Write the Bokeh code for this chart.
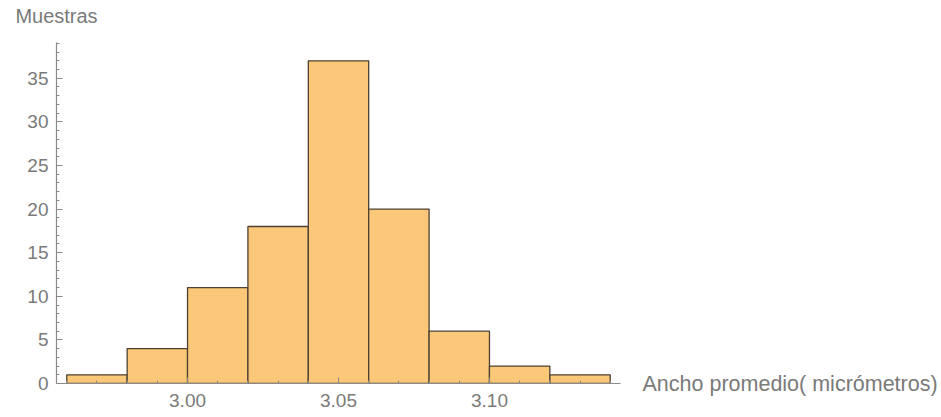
from bokeh.plotting import figure
from bokeh.models import (Range1d, SingleIntervalTicker, FixedTicker, PrintfTickFormatter,
                          LinearAxis, ColumnDataSource)
from bokeh.embed import file_html
from bokeh.resources import INLINE

# Data
bin_edges = [2.96, 2.98, 3.00, 3.02, 3.04, 3.06, 3.08, 3.10, 3.12, 3.14]
counts = [1, 4, 11, 18, 37, 20, 6, 2, 1]
y_label = "Muestras"
x_label = "Ancho promedio( micrómetros)"

src = ColumnDataSource(dict(left=bin_edges[:-1], right=bin_edges[1:], top=counts,
                            bottom=[0] * len(counts)))

TXT = "#7a7a7a"
AX = "#8a8a8a"
FONT = "Liberation Sans"

p = figure(width=941, height=417, output_backend="svg", toolbar_location=None,
           x_range=Range1d(2.9566, 3.1434), y_range=Range1d(0, 39.1),
           min_border_left=56, min_border_right=321, min_border_top=42, min_border_bottom=34)
p.outline_line_color = None
p.background_fill_color = "white"
p.border_fill_color = "white"
p.xgrid.visible = False
p.ygrid.visible = False

p.quad(left="left", right="right", top="top", bottom="bottom", source=src,
       fill_color="#FAC878", line_color="#4d4033", line_width=1.3)

for ax in (p.xaxis[0], p.yaxis[0]):
    ax.axis_line_color = AX
    ax.axis_line_width = 1.2
    ax.major_tick_line_color = AX
    ax.minor_tick_line_color = AX
    ax.major_tick_in = 6
    ax.major_tick_out = 0
    ax.minor_tick_in = 3
    ax.minor_tick_out = 0
    ax.major_label_text_color = TXT
    ax.major_label_text_font = FONT
    ax.major_label_text_font_size = "19px"

p.xaxis[0].ticker = SingleIntervalTicker(interval=0.05, num_minor_ticks=5)
p.xaxis[0].formatter = PrintfTickFormatter(format="%.2f")
p.xaxis[0].major_label_standoff = 10
p.yaxis[0].ticker = SingleIntervalTicker(interval=5, num_minor_ticks=5)
p.yaxis[0].major_label_standoff = 8


def text_guide(ticks, text, **kw):
    g = LinearAxis(ticker=FixedTicker(ticks=ticks, minor_ticks=[]),
                   major_label_overrides={ticks[0]: text}, **kw)
    g.axis_line_color = None
    g.major_tick_line_color = None
    g.minor_tick_line_color = None
    g.major_tick_out = 0
    g.major_tick_in = 0
    g.major_label_text_color = TXT
    g.major_label_text_font = FONT
    return g


# x-axis title placed to the right of the axis end
xr = text_guide([0], x_label)
xr.major_label_standoff = 22
xr.major_label_text_font_size = "21.5px"
p.add_layout(xr, "right")

# y-axis title at the top-left, centred over the y axis (guide on a helper range)
p.extra_x_ranges = {"title": Range1d(0, 100)}
yt = text_guide([0], y_label, x_range_name="title")
yt.major_label_standoff = 16
yt.major_label_text_font_size = "20px"
p.add_layout(yt, "above")

open("out.html", "w").write(file_html(p, INLINE))
